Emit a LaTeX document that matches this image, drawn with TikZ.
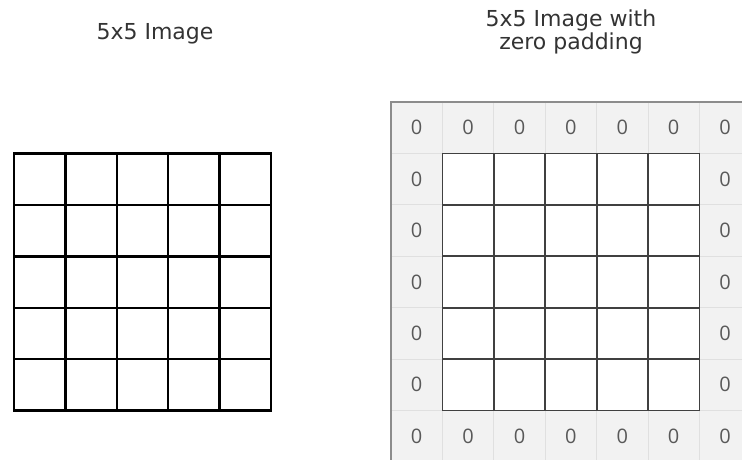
\documentclass[tikz,border=0pt]{standalone}
\usepackage{fontspec}
\setmainfont{DejaVu Sans}
\newfontfamily\digitfont{Open Sans}
\usetikzlibrary{positioning}
\tikzset{
  pixel/.style={draw=black,line width=2.4pt,fill=white,minimum size=51.4pt,inner sep=0pt},
  padcell/.style={draw=black!12,line width=1pt,fill=black!5,minimum size=51.4pt,inner sep=0pt,
    text=black!65,font=\digitfont\fontsize{20}{20}\selectfont},
  innercell/.style={draw=black!75,line width=1.8pt,fill=white,minimum size=51.4pt,inner sep=0pt},
  title/.style={text=black!80,font=\fontsize{22}{23}\selectfont,align=center,inner sep=0pt},
}

\begin{document}
\begin{tikzpicture}[x=1pt,y=-1pt]
\useasboundingbox (0,0) rectangle (742,460);
\clip (0,0) rectangle (742,460);

% titles
\node[title,anchor=base] (lefttitle) at (155,40) {5x5 Image};
\node[title,anchor=base] (righttitle) at (571,50) {5x5 Image with\\zero padding};

% plain 5x5 image
\foreach \r in {0,...,4}
  \foreach \c in {0,...,4}
    \node[pixel] (img-\r-\c) at ({39.7+51.4*\c},{179.2+51.4*\r}) {};

% padded image: border of zeros
\foreach \c in {0,...,6} {
  \node[padcell] (pad-0-\c) at ({416.7+51.4*\c},127.7) {0};
  \node[padcell] (pad-6-\c) at ({416.7+51.4*\c},436.1) {0};
}
\foreach \r in {1,...,5} {
  \node[padcell] (pad-\r-0) at (416.7,{127.7+51.4*\r}) {0};
  \node[padcell] (pad-\r-6) at (725.1,{127.7+51.4*\r}) {0};
}
% padded image: inner pixels
\foreach \r in {1,...,5}
  \foreach \c in {1,...,5}
    \node[innercell] (pad-\r-\c) at ({416.7+51.4*\c},{127.7+51.4*\r}) {};

\draw[black!45,line width=2pt] (pad-0-0.north west) rectangle (pad-6-6.south east);

\end{tikzpicture}
\end{document}
